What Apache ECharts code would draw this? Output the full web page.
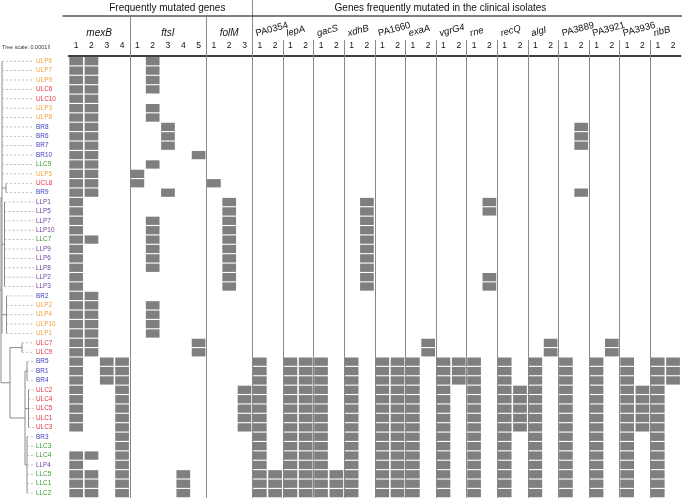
<!DOCTYPE html>
<html><head><meta charset="utf-8">
<script src="https://cdn.jsdelivr.net/npm/echarts@6/dist/echarts.min.js"></script>
<style>html,body{margin:0;padding:0;background:#fff}#c{width:682px;height:498px}</style>
</head><body><div id="c"></div>
<script>
// ---------------- DATA ----------------
const isolates = ['ULP6','ULP7','ULP9','ULC6','ULC10','ULP3','ULP8','BR8','BR6','BR7','BR10','LLC9','ULP5','UCL8','BR9',
  'LLP1','LLP5','LLP7','LLP10','LLC7','LLP9','LLP6','LLP8','LLP2','LLP3','BR2','ULP2','ULP4','ULP10','ULP1','ULC7','ULC9',
  'BR5','BR1','BR4','ULC2','ULC4','ULC5','ULC1','ULC3','BR3','LLC3','LLC4','LLP4','LLC5','LLC1','LLC2'];
const geneNames = ['mexB','ftsI','folM','PA0354','lepA','gacS','xdhB','PA1660','exaA','vgrG4','rne','recQ','algI','PA3889','PA3921','PA3936','ribB'];
const geneSizes = [4,5,3,2,2,2,2,2,2,2,2,2,2,2,2,2,2];
const geneItalic = [true,true,true,false,true,true,true,false,true,true,true,true,true,false,false,false,true];
const groupTitles = ['Frequently mutated genes','Genes frequently mutated in the clinical isolates'];
const groupGenes = [[0,2],[3,16]];
const columnLabels = ['1','2','3','4','1','2','3','4','5','1','2','3',
  '1','2','1','2','1','2','1','2','1','2','1','2','1','2','1','2','1','2','1','2','1','2','1','2','1','2','1','2'];
// row indices (into isolates) that are mutated, one list per column
const mutatedRows = [
  [0,1,2,3,4,5,6,7,8,9,10,11,12,13,14,15,16,17,18,19,20,21,22,23,24,25,26,27,28,29,30,31,32,33,34,35,36,37,38,39,42,43,44,45,46],
  [0,1,2,3,4,5,6,7,8,9,10,11,12,13,14,19,25,26,27,28,29,30,31,42,44,45,46],
  [32,33,34],
  [32,33,34,35,36,37,38,39,40,41,42,43,44,45,46],
  [12,13],
  [0,1,2,3,5,6,11,17,18,19,20,21,22,26,27,28,29],
  [7,8,9,14],
  [44,45,46],
  [10,30,31],
  [13],
  [15,16,17,18,19,20,21,22,23,24],
  [35,36,37,38,39],
  [32,33,34,35,36,37,38,39,40,41,42,43,44,45,46],
  [44,45,46],
  [32,33,34,35,36,37,38,39,40,41,42,43,44,45,46],
  [32,33,34,35,36,37,38,39,40,41,42,43,44,45,46],
  [32,33,34,35,36,37,38,39,40,41,42,43,44,45,46],
  [44,45,46],
  [32,33,34,35,36,37,38,39,40,41,42,43,44,45,46],
  [15,16,17,18,19,20,21,22,23,24],
  [32,33,34,35,36,37,38,39,40,41,42,43,44,45,46],
  [32,33,34,35,36,37,38,39,40,41,42,43,44,45,46],
  [32,33,34,35,36,37,38,39,40,41,42,43,44,45,46],
  [30,31],
  [32,33,34,35,36,37,38,39,40,41,42,43,44,45,46],
  [32,33,34],
  [32,33,34,35,36,37,38,39,40,41,42,43,44,45,46],
  [15,16,23,24],
  [32,33,34,35,36,37,38,39,40,41,42,43,44,45,46],
  [35,36,37,38,39],
  [32,33,34,35,36,37,38,39,40,41,42,43,44,45,46],
  [30,31],
  [32,33,34,35,36,37,38,39,40,41,42,43,44,45,46],
  [7,8,9,14],
  [32,33,34,35,36,37,38,39,40,41,42,43,44,45,46],
  [30,31],
  [32,33,34,35,36,37,38,39,40,41,42,43,44,45,46],
  [35,36,37,38,39],
  [32,33,34,35,36,37,38,39,40,41,42,43,44,45,46],
  [32,33,34]
];
// dendrogram: [node depth, first row, last row, parent depth]
const treeClades = [
  [2,0,29,1],[6,13,14,2],[4.5,15,24,2],[6.5,25,29,2],
  [22,30,31,10],[10,30.5,38,1],[25,33,43,10],
  [27,32,34,25],[28.5,35,39,25],[27,40,46,25],[1,14.5,34.25,0]
];
// depth where each isolate's leaf branch starts
const leafDepth = [2,2,2,2,2,2,2,2,2,2,2,2,2,6,6,4.5,4.5,4.5,4.5,4.5,4.5,4.5,4.5,4.5,4.5,
  6.5,6.5,6.5,6.5,6.5,22,22,27,27,27,28.5,28.5,28.5,28.5,28.5,27,27,27,27,27,27,27];
const treeScaleText = 'Tree scale: 0.0001';

// ---------------- STYLE / BUILD ----------------
const FONT = '"Liberation Sans", Arial, sans-serif';
const prefixStyle = [['ULP','ulp','#F2A33C'],['ULC','ulc','#E3343E'],['UCL','ulc','#E3343E'],['BR','br','#3C3CBC'],['LLC','llc','#3A9C36'],['LLP','llp','#6B3F9A']];
const keyFor = n => (prefixStyle.find(p => n.startsWith(p[0])) || [0,'ulp'])[1];
const rich = {};
prefixStyle.forEach(p => { rich[p[1]] = { color: p[2], width: 30, align: 'left', fontSize: 6.4, fontFamily: FONT }; });

const geneStart = []; { let a = 0; geneSizes.forEach(s => { geneStart.push(a); a += s; }); }
const colIds = columnLabels.map((l, i) => 'c' + i);
const cellData = [];
mutatedRows.forEach((rows, c) => rows.forEach(r => cellData.push([c, r])));
const sepData = geneStart.slice(1).map((s, k) => [s, k + 1]);
const geneData = geneNames.map((g, i) => [geneStart[i], geneSizes[i], i]);
const groupData = groupGenes.map((gg, i) => [geneStart[gg[0]], geneStart[gg[1]] + geneSizes[gg[1]], i]);
const leaderData = leafDepth.map((d, r) => [d, r]);

const chart = echarts.init(document.getElementById('c'));
const GT = 56.5, GH = 441.3;

function colEdges(api, c0, c1) {
  const s = api.size([1, 1]);
  const a = api.coord([c0, 0])[0] - s[0] / 2;
  const b = api.coord([c1 - 1, 0])[0] + s[0] / 2;
  return [a, b];
}

chart.setOption({
  animation: false,
  textStyle: { fontFamily: FONT },
  grid: [
    { left: 68.5, top: GT, width: 612.2, height: GH, outerBoundsMode: 'none', containLabel: false },
    { left: 0, top: GT, width: 35, height: GH, outerBoundsMode: 'none', containLabel: false }
  ],
  xAxis: [
    { type: 'category', gridIndex: 0, data: colIds, position: 'top', offset: 1,
      axisLine: { show: true, lineStyle: { color: '#000', width: 1.5 } },
      axisTick: { show: false }, splitLine: { show: false },
      axisLabel: { interval: 0, margin: 5, fontSize: 8.5, color: '#111', fontFamily: FONT,
        formatter: (v, i) => columnLabels[i] } },
    { type: 'value', gridIndex: 1, min: 0, max: 35, show: false }
  ],
  yAxis: [
    { type: 'category', gridIndex: 0, inverse: true, data: isolates,
      axisLine: { show: false }, axisTick: { show: false }, splitLine: { show: false },
      axisLabel: { interval: 0, margin: 2.5, fontSize: 6.4, fontFamily: FONT,
        formatter: v => '{' + keyFor(v) + '|' + v + '}', rich } },
    { type: 'value', gridIndex: 1, min: -0.5, max: 46.5, inverse: true, show: false }
  ],
  graphic: [
    { type: 'text', left: 2, top: 44, style: { text: treeScaleText, fontSize: 5.5, fill: '#333', fontFamily: FONT } },
    { type: 'line', shape: { x1: 49, y1: 44.5, x2: 49, y2: 49 }, style: { stroke: '#333', lineWidth: 0.8 } }
  ],
  series: [
    { // separators
      type: 'custom', xAxisIndex: 0, yAxisIndex: 0, clip: false, z: 1, silent: true,
      data: sepData,
      renderItem: (p, api) => {
        const s = api.size([1, 1]);
        const x = Math.round(api.coord([api.value(0), 0])[0] - s[0] / 2) + 0.5;
        const yb = api.coord([0, isolates.length - 1])[1] + s[1] / 2;
        const g = api.value(1);
        const yt = g === 3 ? 0 : (g < 3 ? 17 : 40);
        return { type: 'line', shape: { x1: x, y1: yt, x2: x, y2: yb }, style: { stroke: '#8a8a8a', lineWidth: 1 } };
      }
    },
    { // mutation cells
      type: 'custom', xAxisIndex: 0, yAxisIndex: 0, clip: false, z: 3, silent: true,
      data: cellData,
      renderItem: (p, api) => {
        const c = api.coord([api.value(0), api.value(1)]);
        const s = api.size([1, 1]);
        return { type: 'rect', shape: { x: c[0] - s[0] / 2 + 0.8, y: c[1] - s[1] / 2 + 0.55, width: s[0] - 1.6, height: s[1] - 1.1 },
          style: { fill: '#7f7f7f' } };
      }
    },
    { // gene names
      type: 'custom', xAxisIndex: 0, yAxisIndex: 0, clip: false, z: 3, silent: true,
      data: geneData,
      renderItem: (p, api) => {
        const i = api.value(2);
        const e = colEdges(api, api.value(0), api.value(0) + api.value(1));
        const font = (geneItalic[i] ? 'italic ' : '') + (i < 3 ? '10px ' : '9.5px ') + FONT;
        if (i < 3) {
          return { type: 'text', x: (e[0] + e[1]) / 2, y: 33,
            style: { text: geneNames[i], font, fill: '#111', align: 'center', verticalAlign: 'middle' } };
        }
        return { type: 'text', x: e[0] + 5, y: 38.5, rotation: 15 * Math.PI / 180,
          style: { text: geneNames[i], font, fill: '#111', align: 'left', verticalAlign: 'bottom' } };
      }
    },
    { // group titles and rule
      type: 'custom', xAxisIndex: 0, yAxisIndex: 0, clip: false, z: 3, silent: true,
      data: groupData,
      renderItem: (p, api) => {
        const gi = api.value(2);
        const e = colEdges(api, api.value(0), api.value(1));
        const shift = gi === 0 ? 7 : -26;
        return { type: 'group', children: [
          { type: 'text', x: (e[0] + e[1]) / 2 + shift, y: 8,
            style: { text: groupTitles[gi], font: '10px ' + FONT, fill: '#111', align: 'center', verticalAlign: 'middle' } },
          { type: 'line', shape: { x1: gi === 0 ? e[0] - 6 : e[0], y1: 16, x2: gi === 0 ? e[1] : e[1] + 2, y2: 16 },
            style: { stroke: '#000', lineWidth: 1 } }
        ] };
      }
    },
    { // tree clades
      type: 'custom', xAxisIndex: 1, yAxisIndex: 1, clip: false, z: 2, silent: true,
      data: treeClades,
      renderItem: (p, api) => {
        const d = api.value(0), r1 = api.value(1), r2 = api.value(2), pd = api.value(3);
        const a = api.coord([d, r1]), b = api.coord([d, r2]);
        const m1 = api.coord([pd, (r1 + r2) / 2]), m2 = api.coord([d, (r1 + r2) / 2]);
        return { type: 'group', children: [
          { type: 'line', shape: { x1: a[0], y1: a[1], x2: b[0], y2: b[1] }, style: { stroke: '#8c8c8c', lineWidth: 1 } },
          { type: 'line', shape: { x1: m1[0], y1: m1[1], x2: m2[0], y2: m2[1] }, style: { stroke: '#8c8c8c', lineWidth: 1 } }
        ] };
      }
    },
    { // leaf leaders
      type: 'custom', xAxisIndex: 1, yAxisIndex: 1, clip: false, z: 2, silent: true,
      data: leaderData,
      renderItem: (p, api) => {
        const a = api.coord([api.value(0), api.value(1)]);
        const b = api.coord([34, api.value(1)]);
        return { type: 'line', shape: { x1: a[0], y1: a[1], x2: b[0], y2: b[1] },
          style: { stroke: '#b0b0b0', lineWidth: 0.8, lineDash: [2, 2] } };
      }
    }
  ]
});
</script></body></html>
